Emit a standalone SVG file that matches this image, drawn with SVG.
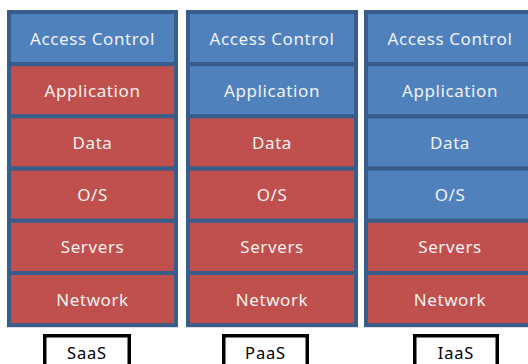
<svg xmlns="http://www.w3.org/2000/svg" width="528" height="364" viewBox="0 0 528 364">
<style>
.b{fill:#4f81bd;stroke:#385d8a;stroke-width:4}
.r{fill:#c0504d;stroke:#385d8a;stroke-width:4}
.t{font-family:"Noto Sans","Open Sans",sans-serif;font-size:17px;letter-spacing:0.6px;fill:#f2f2f2;text-anchor:middle;dominant-baseline:central}
.lb{fill:#fff;stroke:#000;stroke-width:3.5}
.lt{font-family:"Noto Sans","Open Sans",sans-serif;font-size:16.5px;letter-spacing:0.8px;fill:#000;text-anchor:middle;dominant-baseline:central}
</style>
<rect width="528" height="364" fill="#fff"/>
<g id="saas">
<rect class="b" x="9" y="12" width="167" height="52.2"/>
<rect class="r" x="9" y="64.2" width="167" height="52.2"/>
<rect class="r" x="9" y="116.4" width="167" height="52.2"/>
<rect class="r" x="9" y="168.6" width="167" height="52.2"/>
<rect class="r" x="9" y="220.8" width="167" height="52.2"/>
<rect class="r" x="9" y="273" width="167" height="52.2"/>
<text class="t" x="92.5" y="38">Access Control</text>
<text class="t" x="92.5" y="90.3">Application</text>
<text class="t" x="92.5" y="142.5">Data</text>
<text class="t" x="92.5" y="194.7">O/S</text>
<text class="t" x="92.5" y="246.9">Servers</text>
<text class="t" x="92.5" y="299.1">Network</text>
</g>
<g id="paas">
<rect class="b" x="188" y="12" width="168" height="52.2"/>
<rect class="b" x="188" y="64.2" width="168" height="52.2"/>
<rect class="r" x="188" y="116.4" width="168" height="52.2"/>
<rect class="r" x="188" y="168.6" width="168" height="52.2"/>
<rect class="r" x="188" y="220.8" width="168" height="52.2"/>
<rect class="r" x="188" y="273" width="168" height="52.2"/>
<text class="t" x="272" y="38">Access Control</text>
<text class="t" x="272" y="90.3">Application</text>
<text class="t" x="272" y="142.5">Data</text>
<text class="t" x="272" y="194.7">O/S</text>
<text class="t" x="272" y="246.9">Servers</text>
<text class="t" x="272" y="299.1">Network</text>
</g>
<g id="iaas">
<rect class="b" x="366" y="12" width="168" height="52.2"/>
<rect class="b" x="366" y="64.2" width="168" height="52.2"/>
<rect class="b" x="366" y="116.4" width="168" height="52.2"/>
<rect class="b" x="366" y="168.6" width="168" height="52.2"/>
<rect class="r" x="366" y="220.8" width="168" height="52.2"/>
<rect class="r" x="366" y="273" width="168" height="52.2"/>
<text class="t" x="450" y="38">Access Control</text>
<text class="t" x="450" y="90.3">Application</text>
<text class="t" x="450" y="142.5">Data</text>
<text class="t" x="450" y="194.7">O/S</text>
<text class="t" x="450" y="246.9">Servers</text>
<text class="t" x="450" y="299.1">Network</text>
</g>
<g id="label-saas">
<rect class="lb" x="44.75" y="335.75" width="84.5" height="40"/>
<text class="lt" x="87" y="352">SaaS</text>
</g>
<g id="label-paas">
<rect class="lb" x="223.75" y="335.75" width="83.5" height="40"/>
<text class="lt" x="265.5" y="352">PaaS</text>
</g>
<g id="label-iaas">
<rect class="lb" x="414.75" y="335.75" width="82.5" height="40"/>
<text class="lt" x="456" y="352">IaaS</text>
</g>
<g id="connectors"/>
</svg>
